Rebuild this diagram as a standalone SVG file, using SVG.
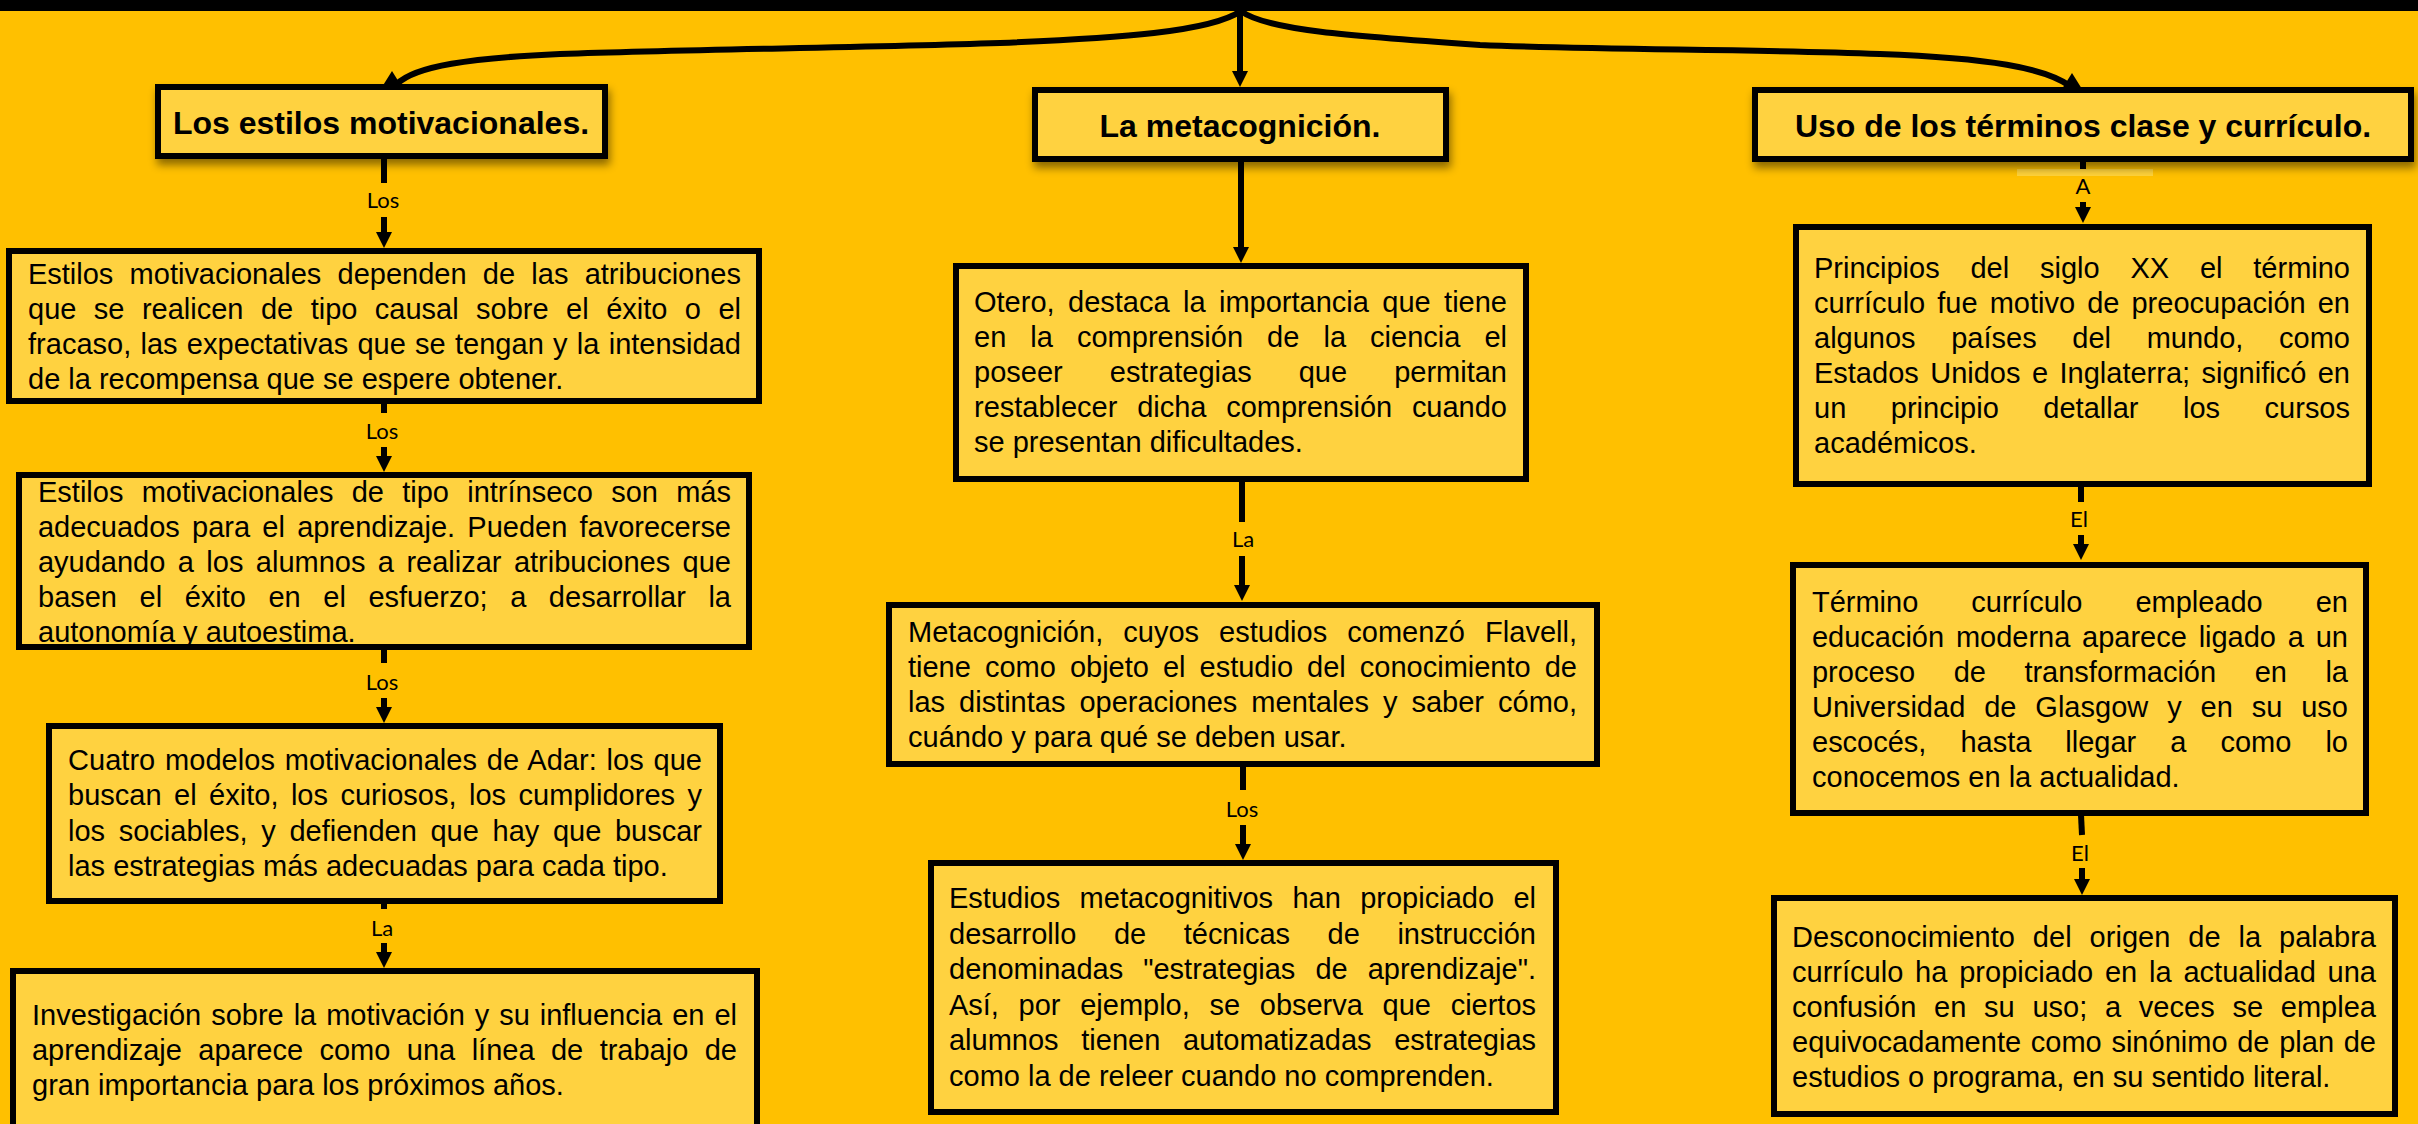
<svg xmlns="http://www.w3.org/2000/svg" xmlns:xlink="http://www.w3.org/1999/xlink" width="2418" height="1124" viewBox="0 0 2418 1124">
<style>
.box{fill:#FFD240;stroke:#000;stroke-width:6}
.hdr{filter:url(#shadow)}
.ht{font-family:"Liberation Sans",Arial,sans-serif;font-weight:bold;font-size:32px;fill:#000;text-anchor:middle}
.t{font-family:"Liberation Sans",Arial,sans-serif;font-size:29px;fill:#000}
.lbl{font-family:Lato,"Open Sans",sans-serif;font-size:22px;fill:#000;text-anchor:middle}
.ln{stroke:#000;stroke-width:6;fill:none}
.arr{stroke:#000;stroke-width:6;fill:none;marker-end:url(#ah)}
.cv{stroke:#000;stroke-width:6;fill:none}
</style>
<defs>
<filter id="shadow" x="-10%" y="-20%" width="120%" height="160%">
<feDropShadow dx="2" dy="6" stdDeviation="4" flood-color="#000" flood-opacity="0.45"/>
</filter>
<marker id="ah" markerUnits="userSpaceOnUse" markerWidth="16" markerHeight="16" refX="4" refY="8" orient="auto">
<path d="M0,0 L16,8 L0,16 Z" fill="#000"/>
</marker>
<path id="uph" d="M0,0 L-10,16 L10,16 Z" fill="#000"/>
</defs>
<rect x="0" y="0" width="2418" height="1124" fill="#FFC000"/>
<rect x="0" y="0" width="2418" height="11" fill="#000"/>

<g id="connectors">
<path class="cv" d="M1241,11 C1210,32 1120,38 1000,43 C850,48 700,49 560,54 C470,58 415,66 397,84"/>
<use xlink:href="#uph" x="392" y="71"/>
<path class="cv" d="M1241,11 C1265,30 1350,36 1480,45 C1600,50 1750,49 1880,54 C1990,58 2045,68 2070,86"/>
<use xlink:href="#uph" x="2072" y="73"/>
<line class="arr" x1="1240" y1="11" x2="1240" y2="75"/>
<!-- left column -->
<line class="ln" x1="384" y1="159" x2="384" y2="183"/>
<line class="arr" x1="384" y1="217" x2="384" y2="236"/>
<line class="ln" x1="384" y1="403" x2="384" y2="413"/>
<line class="arr" x1="384" y1="447" x2="384" y2="460"/>
<line class="ln" x1="384" y1="650" x2="384" y2="663"/>
<line class="arr" x1="384" y1="698" x2="384" y2="711"/>
<line class="ln" x1="384" y1="904" x2="384" y2="909"/>
<line class="arr" x1="384" y1="943" x2="384" y2="956"/>
<!-- middle column -->
<line class="ln" x1="1241" y1="162" x2="1241" y2="240"/>
<line class="arr" x1="1241" y1="240" x2="1241" y2="251"/>
<line class="ln" x1="1242" y1="482" x2="1242" y2="522"/>
<line class="arr" x1="1242" y1="556" x2="1242" y2="589"/>
<line class="ln" x1="1243" y1="767" x2="1243" y2="790"/>
<line class="arr" x1="1243" y1="825" x2="1243" y2="848"/>
<!-- right column -->
<line class="ln" x1="2083" y1="162" x2="2083" y2="169"/>
<rect x="2017" y="169" width="136" height="7" fill="#FFD23A"/>
<line class="arr" x1="2083" y1="202" x2="2083" y2="211"/>
<line class="ln" x1="2081" y1="487" x2="2081" y2="502"/>
<line class="arr" x1="2081" y1="535" x2="2081" y2="548"/>
<line class="ln" x1="2081" y1="815" x2="2082" y2="835"/>
<line class="arr" x1="2082" y1="868" x2="2082" y2="883"/>
<text class="lbl" x="383" y="208">Los</text>
<text class="lbl" x="382" y="439">Los</text>
<text class="lbl" x="382" y="690">Los</text>
<text class="lbl" x="382" y="936">La</text>
<text class="lbl" x="1243" y="547">La</text>
<text class="lbl" x="1242" y="817">Los</text>
<text class="lbl" x="2083" y="194">A</text>
<text class="lbl" x="2079" y="527">El</text>
<text class="lbl" x="2080" y="861">El</text>
</g>

<g id="h-estilos">
<rect class="box hdr" x="158" y="87" width="447" height="69"/>
<text class="ht" x="381" y="134">Los estilos motivacionales.</text>
</g>
<g id="h-metacognicion">
<rect class="box hdr" x="1035" y="90" width="411" height="69"/>
<text class="ht" x="1240" y="137">La metacognición.</text>
</g>
<g id="h-curriculo">
<rect class="box hdr" x="1755" y="90" width="656" height="69"/>
<text class="ht" x="2083" y="137">Uso de los términos clase y currículo.</text>
</g>

<g id="l1">
<rect class="box" x="9" y="251" width="750" height="150"/>
<text class="t" x="28" y="284" textLength="713" lengthAdjust="spacing" style="word-spacing:8.2px">Estilos motivacionales dependen de las atribuciones</text>
<text class="t" x="28" y="319" textLength="713" lengthAdjust="spacing" style="word-spacing:9.4px">que se realicen de tipo causal sobre el éxito o el</text>
<text class="t" x="28" y="354" textLength="713" lengthAdjust="spacing" style="word-spacing:1.2px">fracaso, las expectativas que se tengan y la intensidad</text>
<text class="t" x="28" y="389">de la recompensa que se espere obtener.</text>
</g>
<g id="l2">
<rect class="box" x="19" y="475" width="730" height="172"/>
<text class="t" x="38" y="502" textLength="693" lengthAdjust="spacing" style="word-spacing:10.2px">Estilos motivacionales de tipo intrínseco son más</text>
<text class="t" x="38" y="537" textLength="693" lengthAdjust="spacing" style="word-spacing:4.2px">adecuados para el aprendizaje. Pueden favorecerse</text>
<text class="t" x="38" y="572" textLength="693" lengthAdjust="spacing" style="word-spacing:4.4px">ayudando a los alumnos a realizar atribuciones que</text>
<text class="t" x="38" y="607" textLength="693" lengthAdjust="spacing" style="word-spacing:14.5px">basen el éxito en el esfuerzo; a desarrollar la</text>
<text class="t" x="38" y="642">autonomía y autoestima.</text>
</g>
<g id="l3">
<rect class="box" x="49" y="726" width="671" height="175"/>
<text class="t" x="68" y="770" textLength="634" lengthAdjust="spacing" style="word-spacing:1.7px">Cuatro modelos motivacionales de Adar: los que</text>
<text class="t" x="68" y="805" textLength="634" lengthAdjust="spacing" style="word-spacing:4.4px">buscan el éxito, los curiosos, los cumplidores y</text>
<text class="t" x="68" y="841" textLength="634" lengthAdjust="spacing" style="word-spacing:5.6px">los sociables, y defienden que hay que buscar</text>
<text class="t" x="68" y="876">las estrategias más adecuadas para cada tipo.</text>
</g>
<g id="l4">
<rect class="box" x="13" y="971" width="744" height="300"/>
<text class="t" x="32" y="1025" textLength="705" lengthAdjust="spacing" style="word-spacing:1.9px">Investigación sobre la motivación y su influencia en el</text>
<text class="t" x="32" y="1060" textLength="705" lengthAdjust="spacing" style="word-spacing:8.4px">aprendizaje aparece como una línea de trabajo de</text>
<text class="t" x="32" y="1095">gran importancia para los próximos años.</text>
</g>

<g id="m1">
<rect class="box" x="956" y="266" width="570" height="213"/>
<text class="t" x="974" y="312" textLength="533" lengthAdjust="spacing" style="word-spacing:5.4px">Otero, destaca la importancia que tiene</text>
<text class="t" x="974" y="347" textLength="533" lengthAdjust="spacing" style="word-spacing:16px">en la comprensión de la ciencia el</text>
<text class="t" x="974" y="382" textLength="533" lengthAdjust="spacing" style="word-spacing:39px">poseer estrategias que permitan</text>
<text class="t" x="974" y="417" textLength="533" lengthAdjust="spacing" style="word-spacing:11.7px">restablecer dicha comprensión cuando</text>
<text class="t" x="974" y="452">se presentan dificultades.</text>
</g>
<g id="m2">
<rect class="box" x="889" y="605" width="708" height="159"/>
<text class="t" x="908" y="642" textLength="669" lengthAdjust="spacing" style="word-spacing:12px">Metacognición, cuyos estudios comenzó Flavell,</text>
<text class="t" x="908" y="677" textLength="669" lengthAdjust="spacing" style="word-spacing:6px">tiene como objeto el estudio del conocimiento de</text>
<text class="t" x="908" y="712" textLength="669" lengthAdjust="spacing" style="word-spacing:6px">las distintas operaciones mentales y saber cómo,</text>
<text class="t" x="908" y="747">cuándo y para qué se deben usar.</text>
</g>
<g id="m3">
<rect class="box" x="931" y="863" width="625" height="249"/>
<text class="t" x="949" y="908" textLength="587" lengthAdjust="spacing" style="word-spacing:11.3px">Estudios metacognitivos han propiciado el</text>
<text class="t" x="949" y="944" textLength="587" lengthAdjust="spacing" style="word-spacing:29.5px">desarrollo de técnicas de instrucción</text>
<text class="t" x="949" y="979" textLength="587" lengthAdjust="spacing" style="word-spacing:12px">denominadas "estrategias de aprendizaje".</text>
<text class="t" x="949" y="1015" textLength="587" lengthAdjust="spacing" style="word-spacing:11.7px">Así, por ejemplo, se observa que ciertos</text>
<text class="t" x="949" y="1050" textLength="587" lengthAdjust="spacing" style="word-spacing:14.7px">alumnos tienen automatizadas estrategias</text>
<text class="t" x="949" y="1086">como la de releer cuando no comprenden.</text>
</g>

<g id="r1">
<rect class="box" x="1796" y="227" width="573" height="257"/>
<text class="t" x="1814" y="278" textLength="536" lengthAdjust="spacing" style="word-spacing:22.8px">Principios del siglo XX el término</text>
<text class="t" x="1814" y="313" textLength="536" lengthAdjust="spacing" style="word-spacing:4px">currículo fue motivo de preocupación en</text>
<text class="t" x="1814" y="348" textLength="536" lengthAdjust="spacing" style="word-spacing:27.6px">algunos países del mundo, como</text>
<text class="t" x="1814" y="383" textLength="536" lengthAdjust="spacing" style="word-spacing:3.4px">Estados Unidos e Inglaterra; significó en</text>
<text class="t" x="1814" y="418" textLength="536" lengthAdjust="spacing" style="word-spacing:36.5px">un principio detallar los cursos</text>
<text class="t" x="1814" y="453">académicos.</text>
</g>
<g id="r2">
<rect class="box" x="1793" y="565" width="573" height="248"/>
<text class="t" x="1812" y="612" textLength="536" lengthAdjust="spacing" style="word-spacing:45px">Término currículo empleado en</text>
<text class="t" x="1812" y="647" textLength="536" lengthAdjust="spacing" style="word-spacing:3.8px">educación moderna aparece ligado a un</text>
<text class="t" x="1812" y="682" textLength="536" lengthAdjust="spacing" style="word-spacing:30.5px">proceso de transformación en la</text>
<text class="t" x="1812" y="717" textLength="536" lengthAdjust="spacing" style="word-spacing:10.8px">Universidad de Glasgow y en su uso</text>
<text class="t" x="1812" y="752" textLength="536" lengthAdjust="spacing" style="word-spacing:26px">escocés, hasta llegar a como lo</text>
<text class="t" x="1812" y="787">conocemos en la actualidad.</text>
</g>
<g id="r3">
<rect class="box" x="1774" y="898" width="621" height="216"/>
<text class="t" x="1792" y="947" textLength="584" lengthAdjust="spacing" style="word-spacing:9.8px">Desconocimiento del origen de la palabra</text>
<text class="t" x="1792" y="982" textLength="584" lengthAdjust="spacing" style="word-spacing:3.7px">currículo ha propiciado en la actualidad una</text>
<text class="t" x="1792" y="1017" textLength="584" lengthAdjust="spacing" style="word-spacing:9.6px">confusión en su uso; a veces se emplea</text>
<text class="t" x="1792" y="1052" textLength="584" lengthAdjust="spacing" style="word-spacing:1.6px">equivocadamente como sinónimo de plan de</text>
<text class="t" x="1792" y="1087">estudios o programa, en su sentido literal.</text>
</g>
</svg>
